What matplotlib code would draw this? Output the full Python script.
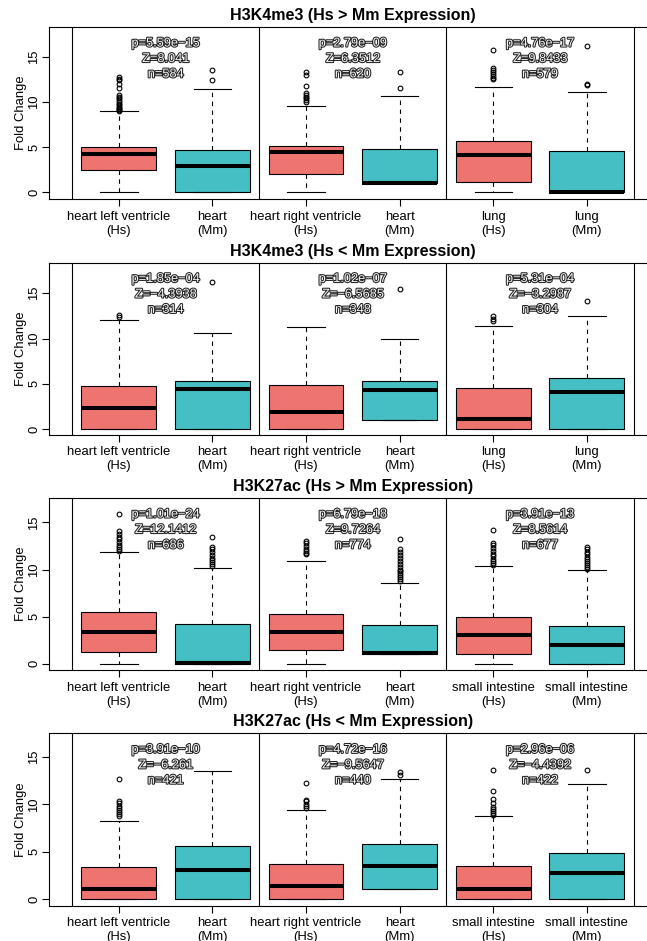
import matplotlib
matplotlib.use("Agg")
import matplotlib.pyplot as plt
import matplotlib.patheffects as pe
import matplotlib.transforms as mtransforms

plt.rcParams['font.family'] = ['Liberation Sans', 'DejaVu Sans']
plt.rcParams['lines.scale_dashes'] = False

# --- DATA ---
TITLES = ["H3K4me3 (Hs > Mm Expression)", "H3K4me3 (Hs < Mm Expression)",
          "H3K27ac (Hs > Mm Expression)", "H3K27ac (Hs < Mm Expression)"]
TISSUES = [["heart left ventricle", "heart", "heart right ventricle", "heart", "lung", "lung"],
           ["heart left ventricle", "heart", "heart right ventricle", "heart", "lung", "lung"],
           ["heart left ventricle", "heart", "heart right ventricle", "heart", "small intestine", "small intestine"],
           ["heart left ventricle", "heart", "heart right ventricle", "heart", "small intestine", "small intestine"]]
SPECIES = ["Hs", "Mm", "Hs", "Mm", "Hs", "Mm"]

Q1 = [[2.43, 0, 1.99, 1.0, 1.17, 0],
      [0, 0, 0, 1.03, 0, 0],
      [1.24, 0, 1.41, 1.06, 1.03, 0],
      [0, 0, 0, 1.12, 0, 0]]
MED = [[4.27, 2.88, 4.42, 1.02, 4.09, 0.06],
       [2.33, 4.40, 1.92, 4.29, 1.10, 4.07],
       [3.33, 0.05, 3.33, 1.08, 3.00, 2.02],
       [1.12, 3.12, 1.40, 3.50, 1.05, 2.74]]
Q3 = [[5.05, 4.68, 5.16, 4.82, 5.64, 4.60],
      [4.81, 5.29, 4.89, 5.29, 4.59, 5.66],
      [5.53, 4.18, 5.32, 4.11, 4.93, 3.97],
      [3.37, 5.64, 3.75, 5.82, 3.54, 4.91]]
WLO = [[0, 0, 0, 1.0, 0, 0],
       [0, 0, 0, 1.03, 0, 0],
       [0, 0, 0, 1.06, 0, 0],
       [0, 0, 0, 1.12, 0, 0]]
WHI = [[8.96, 11.43, 9.55, 10.65, 11.65, 11.13],
       [12.03, 10.59, 11.29, 10.0, 11.4, 12.5],
       [11.88, 10.17, 10.88, 8.61, 10.39, 9.96],
       [8.24, 13.54, 9.40, 12.70, 8.77, 12.14]]
FLIERS = [
    [[9.05, 9.15, 9.25, 9.35, 9.5, 9.65, 9.8, 10.0, 10.2, 10.4, 10.6, 10.8, 11.6, 12.0, 12.4, 12.6, 12.8],
     [12.39, 13.56],
     [10.05, 10.2, 10.4, 10.6, 10.8, 11.0, 11.75, 13.0, 13.3],
     [11.5, 13.27],
     [12.5, 12.7, 12.9, 13.1, 13.3, 13.5, 13.8, 15.75],
     [11.87, 11.95, 16.18]],
    [[12.4, 12.6], [16.2], [], [15.5], [11.9, 12.2, 12.5], [14.2]],
    [[12.0, 12.2, 12.4, 12.6, 12.9, 13.2, 13.5, 13.8, 14.1, 15.85],
     [10.4, 10.6, 10.8, 11.0, 11.2, 11.5, 11.9, 12.2, 12.4, 13.5],
     [11.6, 11.8, 12.0, 12.2, 12.5, 12.8, 13.05],
     [8.8, 9.0, 9.2, 9.4, 9.6, 9.8, 10.0, 10.3, 10.6, 10.9, 11.2, 11.5, 11.9, 12.2, 13.2],
     [10.5, 10.7, 10.9, 11.1, 11.4, 11.7, 12.0, 12.3, 12.6, 12.8, 14.25],
     [10.1, 10.3, 10.5, 10.7, 10.9, 11.1, 11.3, 11.6, 11.9, 12.2, 12.4]],
    [[8.8, 9.0, 9.2, 9.4, 9.6, 9.8, 10.1, 10.35, 12.7],
     [],
     [9.6, 9.8, 10.0, 10.3, 10.5, 12.2],
     [13.1, 13.35],
     [8.9, 9.1, 9.3, 9.5, 9.7, 10.1, 10.6, 11.4, 13.65],
     [13.58]],
]

P_VALS = [["5.59e\u221215", "2.79e\u221209", "4.76e\u221217"],
          ["1.85e\u221204", "1.02e\u221207", "5.31e\u221204"],
          ["1.01e\u221224", "6.79e\u221218", "3.91e\u221213"],
          ["3.91e\u221210", "4.72e\u221216", "2.96e\u221206"]]
Z_VALS = [["8.041", "6.3512", "9.8433"],
          ["\u22124.3938", "\u22126.5685", "\u22123.2987"],
          ["12.1412", "9.7264", "8.5614"],
          ["\u22126.261", "\u22129.5647", "\u22124.4392"]]
N_VALS = [[584, 620, 579], [314, 348, 304], [686, 774, 677], [421, 440, 422]]

YLIMS = [(-0.77, 18.3), (-0.63, 18.4), (-0.71, 17.6), (-0.67, 17.47)]

COLORS = ["#EE746F", "#45BFC4"]

# --- LAYOUT (pixels) ---
W, H = 647, 941
AX_LEFT, AX_RIGHT = 49.3, 656.4
AX_H = 172.3
TOPS = [27, 262.5, 498, 733.3]

fig = plt.figure(figsize=(W / 100, H / 100), dpi=100)

# light text with a thin dark outline
halo = [pe.withStroke(linewidth=1.5, foreground="#222222")]

for i in range(4):
    ax = fig.add_axes([AX_LEFT / W, (H - TOPS[i] - AX_H) / H,
                       (AX_RIGHT - AX_LEFT) / W, AX_H / H])
    stats = []
    for j in range(6):
        stats.append(dict(med=MED[i][j], q1=Q1[i][j], q3=Q3[i][j],
                          whislo=WLO[i][j], whishi=WHI[i][j], fliers=FLIERS[i][j]))
    pos = list(range(1, 7))
    bp = ax.bxp(stats, positions=pos, widths=0.8, capwidths=0.4, patch_artist=True,
                boxprops=dict(edgecolor="black", linewidth=0.8),
                medianprops=dict(color="black", linewidth=2.9, solid_capstyle="butt"),
                whiskerprops=dict(color="black", linewidth=0.8, linestyle=(0, (3.2, 3.2))),
                capprops=dict(color="black", linewidth=0.8),
                flierprops=dict(marker="o", markersize=3.4, markerfacecolor="none",
                                markeredgecolor="black", markeredgewidth=0.8))
    for j, box in enumerate(bp["boxes"]):
        box.set_facecolor(COLORS[j % 2])

    # group separators
    for xs in [0.5, 2.5, 4.5, 6.5]:
        ax.axvline(xs, color="black", linewidth=0.8)

    ax.set_xlim(0.257, 6.743)
    ax.set_ylim(*YLIMS[i])
    ax.set_xticks(pos)
    ax.set_xticklabels([f"{t}\n({s})" for t, s in zip(TISSUES[i], SPECIES)],
                       fontsize=9.4, linespacing=1.25)
    ax.set_yticks([0, 5, 10, 15])
    ax.set_yticklabels(["0", "5", "10", "15"], rotation=90, va="center", fontsize=9.4)
    ax.tick_params(axis="both", length=5, width=0.8, color="black")
    ax.tick_params(axis="x", pad=3.2)
    ax.tick_params(axis="y", pad=1.5)
    ax.set_ylabel("Fold Change", fontsize=9.4, labelpad=1)
    for sp in ax.spines.values():
        sp.set_linewidth(0.8)
    ax.set_title(TITLES[i], fontsize=11.5, fontweight="bold", pad=5)

    trans = mtransforms.blended_transform_factory(ax.transData, ax.transAxes)
    for g in range(3):
        xc = 1.5 + 2 * g
        lines = [f"p={P_VALS[i][g]}", f"Z={Z_VALS[i][g]}", f"n={N_VALS[i][g]}"]
        for txt, yf in zip(lines, [0.904, 0.814, 0.725]):
            ax.text(xc, yf, txt, transform=trans, ha="center", va="center",
                    fontsize=9.2, color="#f4f4f4", path_effects=halo)

fig.savefig("out.png", dpi=100)
